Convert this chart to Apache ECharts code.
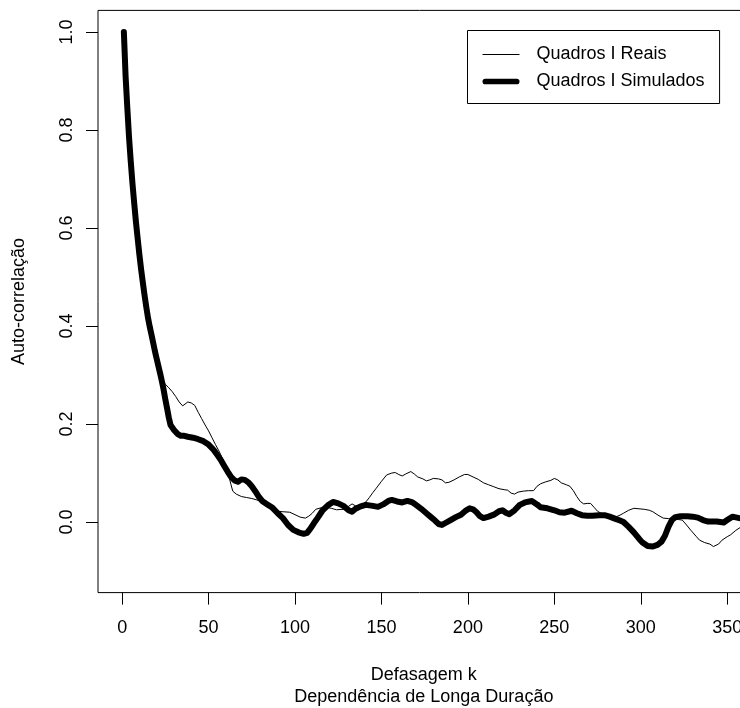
<!DOCTYPE html>
<html>
<head>
<meta charset="utf-8">
<script src="https://cdn.jsdelivr.net/npm/echarts@6/dist/echarts.min.js"></script>
<style>
  html, body { margin: 0; padding: 0; background: #fff; }
  #chart { width: 740px; height: 708px; }
</style>
</head>
<body>
<div id="chart"></div>
<script>
// Sample autocorrelation of the real I-frame series, by lag k
const realLags = [1,2,3,4,5,6,7,8,9,10,11,12,13,14,15,16,17,18,19,20,21,22,23,24,25,27,29,31,33,35,36,38,40,42,44,46,48,50,52,54,56,58,60,62,63,64,66,69,72,75,78,81,84,87,90,93,97,100,103,106,108,110,112,115,118,121,124,128,131,133,135,137,139,141,143,145,147,150,153,156,158,160,162,164,167,169,171,174,176,178,180,183,185,187,189,192,195,198,200,203,206,209,212,215,218,221,223,225,227,229,232,235,238,240,242,245,248,250,252,254,257,259,261,263,265,267,269,271,273,275,278,281,284,286,288,290,293,296,299,302,305,307,310,313,316,319,322,324,326,329,332,334,337,340,342,343,345,347,350,352,355,358,360];
const realAcf = [1.0,0.905,0.835,0.775,0.722,0.675,0.632,0.593,0.558,0.525,0.495,0.468,0.443,0.42,0.40,0.382,0.366,0.351,0.336,0.322,0.310,0.300,0.292,0.286,0.281,0.274,0.266,0.256,0.245,0.237,0.240,0.245,0.243,0.238,0.224,0.211,0.198,0.186,0.172,0.158,0.145,0.130,0.112,0.090,0.076,0.063,0.057,0.052,0.050,0.048,0.045,0.041,0.034,0.027,0.022,0.021,0.020,0.015,0.010,0.008,0.012,0.018,0.026,0.029,0.030,0.028,0.025,0.026,0.032,0.037,0.033,0.030,0.036,0.041,0.050,0.060,0.069,0.083,0.096,0.100,0.101,0.097,0.094,0.098,0.103,0.098,0.092,0.088,0.084,0.086,0.089,0.088,0.086,0.080,0.081,0.086,0.092,0.097,0.097,0.092,0.087,0.080,0.076,0.072,0.068,0.066,0.065,0.059,0.057,0.061,0.063,0.064,0.064,0.073,0.078,0.082,0.085,0.089,0.086,0.080,0.076,0.073,0.064,0.052,0.042,0.037,0.038,0.038,0.030,0.022,0.016,0.014,0.012,0.011,0.014,0.018,0.024,0.028,0.027,0.026,0.024,0.021,0.014,0.008,0.007,0.006,0.005,0.004,-0.004,-0.017,-0.029,-0.037,-0.042,-0.045,-0.050,-0.053,-0.045,-0.037,-0.030,-0.026,-0.017,-0.010,-0.005];

// Autocorrelation of the simulated I-frame series, by lag k
const simLags = [1,2,3,4,5,6,7,8,9,10,11,12,13,14,15,16,17,18,19,20,21,22,23,24,25,26,27,28,30,32,34,36,38,41,44,47,50,53,55,57,59,61,63,65,67,69,71,73,75,77,79,81,84,87,90,93,96,99,102,105,107,109,111,113,116,119,122,125,128,131,133,135,138,141,145,148,151,154,156,159,162,165,168,170,173,176,179,181,183,185,187,190,193,196,199,201,203,205,207,209,212,215,218,220,222,224,227,230,233,237,240,242,246,250,253,256,260,263,266,269,272,276,279,282,285,288,290,293,296,299,301,304,307,310,312,314,316,318,320,323,327,330,333,336,339,344,348,350,353,357,360];
const simAcf = [1.0,0.91,0.845,0.785,0.735,0.69,0.65,0.612,0.578,0.545,0.515,0.488,0.462,0.438,0.416,0.398,0.382,0.365,0.348,0.333,0.318,0.303,0.287,0.27,0.25,0.232,0.213,0.198,0.188,0.180,0.176,0.176,0.174,0.172,0.169,0.165,0.158,0.147,0.137,0.127,0.115,0.103,0.092,0.085,0.082,0.087,0.086,0.081,0.073,0.063,0.052,0.043,0.036,0.029,0.018,0.008,-0.006,-0.016,-0.021,-0.024,-0.022,-0.013,-0.002,0.008,0.024,0.034,0.041,0.038,0.033,0.024,0.021,0.027,0.032,0.035,0.033,0.031,0.036,0.043,0.045,0.042,0.040,0.043,0.040,0.035,0.027,0.018,0.009,0.003,-0.004,-0.006,-0.002,0.004,0.010,0.015,0.024,0.028,0.026,0.020,0.012,0.008,0.011,0.015,0.022,0.024,0.019,0.016,0.024,0.035,0.040,0.043,0.036,0.030,0.028,0.024,0.020,0.019,0.023,0.018,0.014,0.013,0.013,0.014,0.014,0.011,0.007,0.003,0.000,-0.010,-0.021,-0.034,-0.042,-0.049,-0.050,-0.046,-0.040,-0.028,-0.010,0.004,0.010,0.012,0.012,0.011,0.009,0.004,0.001,0.001,-0.001,0.004,0.011,0.008,0.006];

const xTicks = [0, 50, 100, 150, 200, 250, 300, 350];
const yTicks = [0, 0.2, 0.4, 0.6, 0.8, 1.0];

const seriesNames = ['Quadros I Reais', 'Quadros I Simulados'];
const xTitle = 'Defasagem k\nDependência de Longa Duração';
const yTitle = 'Auto-correlação';

const pair = (xs, ys) => xs.map((x, i) => [x, ys[i]]);

const FONT = '"Liberation Sans", Arial, Helvetica, sans-serif';
const chart = echarts.init(document.getElementById('chart'), null, { renderer: 'canvas' });

chart.setOption({
  animation: false,
  backgroundColor: '#ffffff',
  textStyle: { fontFamily: FONT, color: '#000' },
  grid: {
    left: 98, top: 10.4, width: 651.6, height: 582.2,
    show: true, borderColor: '#000', borderWidth: 1,
    backgroundColor: 'transparent',
    outerBoundsMode: 'none', containLabel: false
  },
  legend: {
    orient: 'vertical',
    left: 467.5, top: 30.5,
    padding: [15, 15, 13, 15],
    itemWidth: 37, itemHeight: 14, itemGap: 9,
    borderColor: '#000', borderWidth: 1, borderRadius: 0,
    backgroundColor: '#fff',
    icon: 'rect',
    data: [
      { name: seriesNames[0], icon: 'path://M0,6.5 L37,6.5 L37,7.5 L0,7.5 Z' },
      { name: seriesNames[1], icon: 'path://M2,4 L35,4 A3,3 0 0 1 35,10 L2,10 A3,3 0 0 1 2,4 Z' }
    ],
    itemStyle: { color: '#000', borderWidth: 0 },
    lineStyle: { opacity: 0 },
    textStyle: { fontFamily: FONT, fontSize: 18, color: '#000', padding: [0, 0, 0, 12] }
  },
  xAxis: {
    type: 'value',
    min: -13.96, max: 362.96,
    name: xTitle,
    nameLocation: 'middle',
    nameGap: 71,
    nameTextStyle: { fontFamily: FONT, fontSize: 18, color: '#000', lineHeight: 22, verticalAlign: 'top' },
    axisLine: { show: false, onZero: false },
    splitLine: { show: false },
    axisTick: { show: true, inside: false, length: 12, customValues: xTicks, lineStyle: { color: '#000', width: 1 } },
    axisLabel: { show: true, margin: 26, customValues: xTicks, fontFamily: FONT, fontSize: 18, color: '#000',
      formatter: v => String(v) }
  },
  yAxis: {
    type: 'value',
    min: -0.144, max: 1.044,
    name: yTitle,
    nameLocation: 'middle',
    nameRotate: 90,
    nameGap: 70,
    nameTextStyle: { fontFamily: FONT, fontSize: 18, color: '#000' },
    axisLine: { show: false, onZero: false },
    splitLine: { show: false },
    axisTick: { show: true, inside: false, length: 12, customValues: yTicks, lineStyle: { color: '#000', width: 1 } },
    axisLabel: { show: true, rotate: 90, margin: 22, customValues: yTicks, fontFamily: FONT, fontSize: 18, color: '#000',
      formatter: v => v.toFixed(1) }
  },
  series: [
    {
      name: seriesNames[0],
      type: 'line',
      data: pair(realLags, realAcf),
      showSymbol: false, symbol: 'none',
      clip: true,
      lineStyle: { color: '#000', width: 1, join: 'round', cap: 'round' },
      itemStyle: { color: '#000' },
      z: 3
    },
    {
      name: seriesNames[1],
      type: 'line',
      data: pair(simLags, simAcf),
      showSymbol: false, symbol: 'none',
      clip: true,
      lineStyle: { color: '#000', width: 6, join: 'round', cap: 'round' },
      itemStyle: { color: '#000' },
      z: 2
    }
  ]
});
</script>
</body>
</html>
